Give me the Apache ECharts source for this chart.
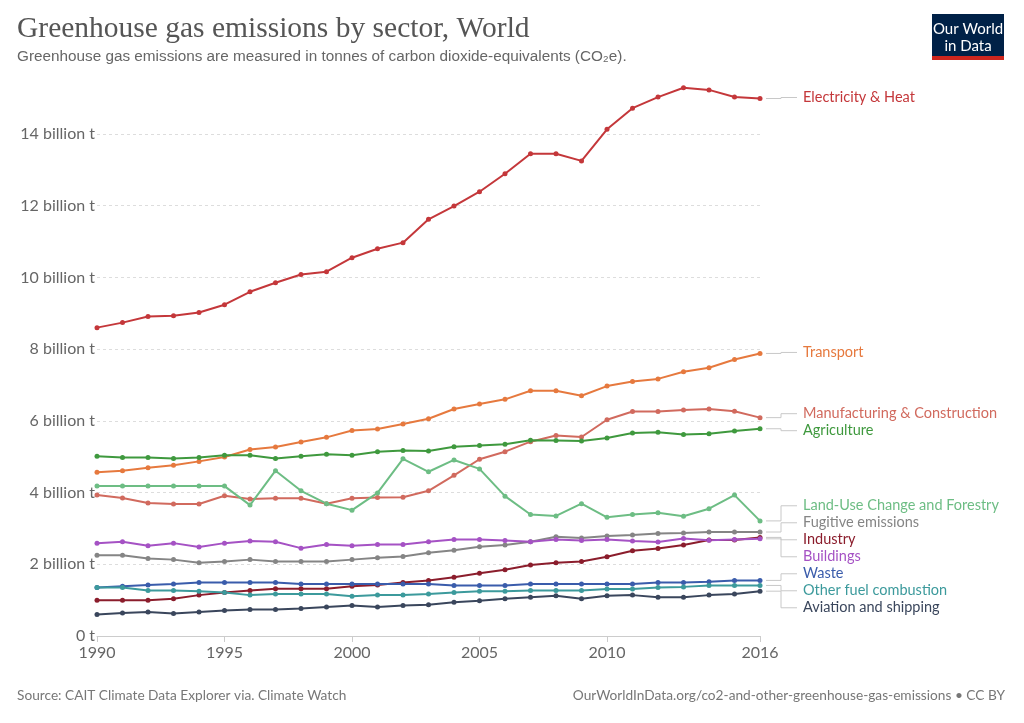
<!DOCTYPE html>
<html>
<head>
<meta charset="utf-8">
<title>Greenhouse gas emissions by sector, World</title>
<script src="https://cdn.jsdelivr.net/npm/echarts@6/dist/echarts.min.js"></script>
<style>
  html, body { margin: 0; padding: 0; background: #fff; }
  #chart { width: 1024px; height: 723px; }
</style>
</head>
<body>
<div id="chart"></div>
<script>
// values in billion tonnes CO2e
const years = [1990, 1991, 1992, 1993, 1994, 1995, 1996, 1997, 1998, 1999, 2000, 2001, 2002,
  2003, 2004, 2005, 2006, 2007, 2008, 2009, 2010, 2011, 2012, 2013, 2014, 2015, 2016];
const shownYears = [1990, 1995, 2000, 2005, 2010, 2016];
const yTicks = [0, 2, 4, 6, 8, 10, 12, 14];

const electricity = [8.60, 8.74, 8.91, 8.93, 9.02, 9.24, 9.60, 9.85, 10.08, 10.16, 10.55, 10.80, 10.97,
  11.62, 11.99, 12.39, 12.89, 13.45, 13.45, 13.25, 14.13, 14.72, 15.03, 15.29, 15.23, 15.03, 14.99];
const transport = [4.57, 4.61, 4.69, 4.76, 4.87, 4.99, 5.20, 5.27, 5.41, 5.54, 5.73, 5.77, 5.91,
  6.06, 6.33, 6.47, 6.60, 6.84, 6.84, 6.70, 6.97, 7.10, 7.17, 7.37, 7.48, 7.71, 7.88];
const manufacturing = [3.93, 3.85, 3.71, 3.68, 3.68, 3.91, 3.82, 3.84, 3.84, 3.69, 3.84, 3.86, 3.87,
  4.05, 4.48, 4.93, 5.14, 5.42, 5.59, 5.55, 6.03, 6.26, 6.26, 6.30, 6.33, 6.27, 6.09];
const agriculture = [5.01, 4.98, 4.98, 4.95, 4.98, 5.04, 5.04, 4.95, 5.01, 5.07, 5.04, 5.14, 5.17,
  5.16, 5.28, 5.31, 5.35, 5.46, 5.45, 5.44, 5.52, 5.66, 5.68, 5.62, 5.64, 5.72, 5.78];
const landUse = [4.18, 4.18, 4.18, 4.18, 4.18, 4.18, 3.65, 4.61, 4.05, 3.69, 3.51, 3.99, 4.94,
  4.58, 4.91, 4.66, 3.90, 3.39, 3.35, 3.69, 3.31, 3.39, 3.44, 3.34, 3.55, 3.93, 3.21];
const fugitive = [2.25, 2.25, 2.16, 2.13, 2.04, 2.08, 2.13, 2.08, 2.08, 2.08, 2.13, 2.18, 2.22,
  2.32, 2.39, 2.49, 2.54, 2.63, 2.77, 2.73, 2.79, 2.82, 2.86, 2.87, 2.90, 2.90, 2.90];
const industry = [1.00, 1.00, 1.00, 1.04, 1.14, 1.21, 1.27, 1.32, 1.32, 1.32, 1.39, 1.42, 1.49,
  1.55, 1.64, 1.75, 1.85, 1.98, 2.04, 2.08, 2.21, 2.38, 2.44, 2.54, 2.68, 2.68, 2.75];
const buildings = [2.59, 2.63, 2.52, 2.59, 2.48, 2.59, 2.65, 2.63, 2.45, 2.55, 2.52, 2.55, 2.55,
  2.63, 2.69, 2.69, 2.66, 2.63, 2.69, 2.66, 2.69, 2.65, 2.62, 2.72, 2.67, 2.69, 2.71];
const waste = [1.35, 1.39, 1.42, 1.45, 1.49, 1.49, 1.49, 1.49, 1.45, 1.45, 1.45, 1.45, 1.45,
  1.45, 1.41, 1.41, 1.41, 1.45, 1.45, 1.45, 1.45, 1.45, 1.49, 1.49, 1.51, 1.55, 1.55];
const otherFuel = [1.35, 1.35, 1.27, 1.27, 1.25, 1.21, 1.14, 1.17, 1.17, 1.17, 1.11, 1.14, 1.14,
  1.17, 1.21, 1.25, 1.25, 1.27, 1.27, 1.27, 1.31, 1.31, 1.35, 1.37, 1.41, 1.41, 1.41];
const aviation = [0.60, 0.64, 0.67, 0.63, 0.67, 0.71, 0.74, 0.74, 0.77, 0.81, 0.85, 0.81, 0.85,
  0.87, 0.94, 0.98, 1.04, 1.08, 1.12, 1.04, 1.12, 1.14, 1.08, 1.08, 1.14, 1.17, 1.25];

const sectors = [
  { name: 'Electricity & Heat', data: electricity, color: '#c4373a' },
  { name: 'Transport', data: transport, color: '#e6793e' },
  { name: 'Manufacturing & Construction', data: manufacturing, color: '#d16a5e' },
  { name: 'Agriculture', data: agriculture, color: '#3f993e' },
  { name: 'Land-Use Change and Forestry', data: landUse, color: '#6dbd84' },
  { name: 'Fugitive emissions', data: fugitive, color: '#858585' },
  { name: 'Industry', data: industry, color: '#8b1d2c' },
  { name: 'Buildings', data: buildings, color: '#a552c4' },
  { name: 'Waste', data: waste, color: '#3a5cab' },
  { name: 'Other fuel combustion', data: otherFuel, color: '#3c9a9c' },
  { name: 'Aviation and shipping', data: aviation, color: '#3a465c' }
];

const FONT = 'Lato, "Helvetica Neue", Arial, sans-serif';
const SANS = '"Liberation Sans", Arial, sans-serif';
const chart = echarts.init(document.getElementById('chart'), null, { renderer: 'canvas' });

chart.setOption({
  animation: false,
  backgroundColor: '#fff',
  textStyle: { fontFamily: FONT },
  grid: { left: 97, right: 264, top: 134, bottom: 87, containLabel: false },
  xAxis: {
    type: 'category',
    data: years.map(String),
    boundaryGap: false,
    axisLine: { lineStyle: { color: '#ccc', width: 1 } },
    axisTick: {
      length: 6,
      lineStyle: { color: '#ccc' },
      interval: (i, v) => shownYears.includes(+v)
    },
    axisLabel: {
      interval: (i, v) => shownYears.includes(+v),
      color: '#666',
      fontSize: 16,
      margin: 9,
      fontFamily: FONT
    },
    splitLine: { show: false }
  },
  yAxis: {
    type: 'value',
    min: yTicks[0],
    max: yTicks[yTicks.length - 1],
    interval: 2,
    axisLine: { show: false },
    axisTick: { show: false },
    axisLabel: {
      color: '#666',
      fontSize: 16,
      margin: 2,
      fontFamily: FONT,
      formatter: v => v === 0 ? '0 t' : v + ' billion t'
    },
    splitLine: { lineStyle: { color: '#ddd', type: [3, 3], width: 1 } }
  },
  series: sectors.map(s => ({
    name: s.name,
    type: 'line',
    data: s.data,
    clip: false,
    symbol: 'circle',
    symbolSize: 5,
    lineStyle: { color: s.color, width: 2 },
    itemStyle: { color: s.color },
    emphasis: { disabled: true }
  }))
});

// right-hand labels with elbow connectors, placed from the last point of each series
const last = years.length - 1;
const items = sectors.map((s, i) => {
  const p = chart.convertToPixel({ seriesIndex: i }, [last, s.data[last]]);
  return { s, x: p[0], y: p[1] };
});

const GAP = 17;
items.sort((a, b) => a.y - b.y);
const groups = [];
items.forEach(it => {
  const g = groups[groups.length - 1];
  if (g && it.y - g[g.length - 1].y < GAP) g.push(it); else groups.push([it]);
});
groups.forEach(g => {
  const mean = g.reduce((t, it) => t + it.y, 0) / g.length;
  g.forEach((it, k) => { it.ly = mean + (k - (g.length - 1) / 2) * GAP - 1; });
});
for (let i = 1; i < items.length; i++) {
  if (items[i].ly < items[i - 1].ly + GAP) items[i].ly = items[i - 1].ly + GAP;
}

const labelX = 803;
const elbowX = 781;
const graphics = [];
items.forEach(it => {
  graphics.push({
    type: 'polyline',
    silent: true,
    shape: { points: [[it.x + 6, it.y], [elbowX, it.y], [elbowX, it.ly], [labelX - 6, it.ly]] },
    style: { stroke: '#c8c8c8', lineWidth: 1, fill: null }
  });
  graphics.push({
    type: 'text',
    silent: true,
    x: labelX,
    y: it.ly,
    style: {
      text: it.s.name,
      fill: it.s.color,
      font: '14.5px ' + FONT,
      textVerticalAlign: 'middle'
    }
  });
});

// titles, logo and footer
graphics.push(
  {
    type: 'text', left: 17, top: 14,
    style: { text: 'Greenhouse gas emissions by sector, World', fill: '#555',
      font: '29.5px "Liberation Serif", "DejaVu Serif", Georgia, serif' }
  },
  {
    type: 'text', left: 17, top: 49,
    style: { text: 'Greenhouse gas emissions are measured in tonnes of carbon dioxide-equivalents (CO₂e).',
      fill: '#666', font: '15.3px ' + SANS }
  },
  { type: 'rect', shape: { x: 932, y: 14, width: 72, height: 46 }, style: { fill: '#002147' } },
  { type: 'rect', shape: { x: 932, y: 56, width: 72, height: 4 }, style: { fill: '#ce261e' } },
  {
    type: 'text', x: 968, y: 29,
    style: { text: 'Our World', fill: '#fff', font: '15px ' + FONT, align: 'center', verticalAlign: 'middle' }
  },
  {
    type: 'text', x: 968, y: 46,
    style: { text: 'in Data', fill: '#fff', font: '15px ' + FONT, align: 'center', verticalAlign: 'middle' }
  },
  {
    type: 'text', x: 17, y: 696,
    style: { text: 'Source: CAIT Climate Data Explorer via. Climate Watch', fill: '#777',
      font: '13.7px ' + FONT, verticalAlign: 'middle' }
  },
  {
    type: 'text', x: 1005, y: 696,
    style: { text: 'OurWorldInData.org/co2-and-other-greenhouse-gas-emissions • CC BY', fill: '#777',
      font: '13.7px ' + FONT, align: 'right', verticalAlign: 'middle' }
  }
);

chart.setOption({ graphic: graphics });
</script>
</body>
</html>
